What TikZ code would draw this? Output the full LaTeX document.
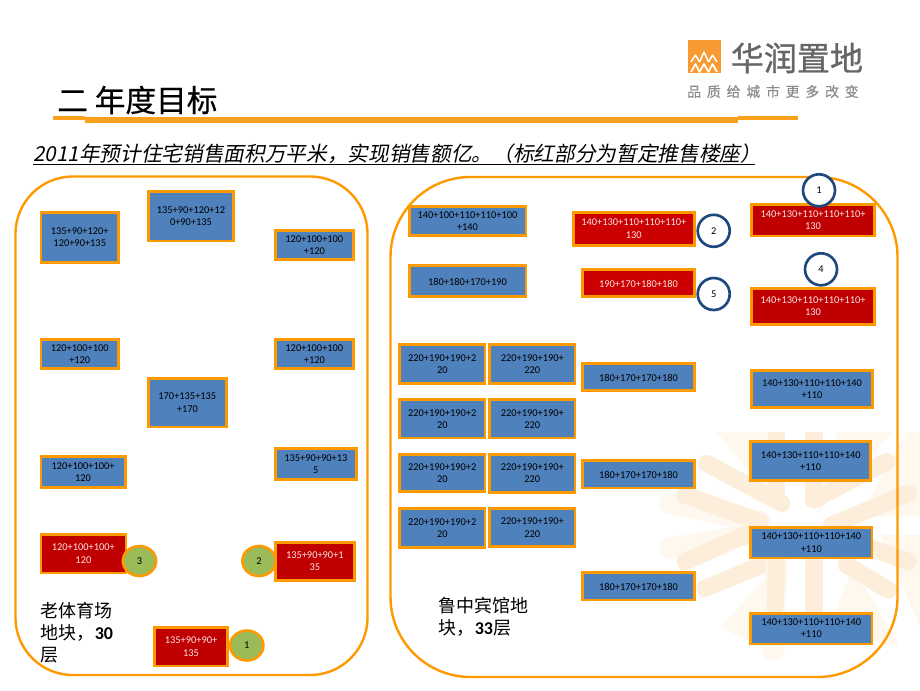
\documentclass[tikz,border=0pt]{standalone}
\usepackage{fontspec}
\usetikzlibrary{shapes.geometric}
\setmainfont{Carlito}
\newfontfamily\cjk{Noto Sans CJK SC}
\newfontfamily\cjkslant[FakeSlant=0.2]{Noto Sans CJK SC}
\newfontfamily\cjkwide[LetterSpace=42,FakeBold=0.6]{Noto Sans CJK SC}
\newfontfamily\cjkheavy[FakeBold=0.8]{Noto Sans CJK SC}
\newfontfamily\cjktitle[FakeBold=0.5]{Noto Sans CJK SC}
\definecolor{frameor}{HTML}{FF9900}
\definecolor{boxblue}{HTML}{4F81BD}
\definecolor{boxred}{HTML}{C00000}
\definecolor{boxredb}{HTML}{CC0000}
\definecolor{dotgreen}{HTML}{9BBB59}
\definecolor{ringblue}{HTML}{1F497D}
\definecolor{ruleor}{HTML}{F9A11B}
\definecolor{logoor}{HTML}{F79A32}
\definecolor{logogray}{HTML}{666666}
\definecolor{taggray}{HTML}{8C8C8C}
\definecolor{rayA}{HTML}{FDEEDB}
\definecolor{rayB}{HTML}{FEF8EF}
\tikzset{
  basebox/.style={draw=frameor,line width=2.1pt,inner sep=0pt,align=center,
    font=\fontsize{7.8}{9.2}\selectfont,
    execute at begin node={\rule{0pt}{7pt}}},
  bluebox/.style={basebox,fill=boxblue,text=black},
  redbox/.style={basebox,fill=boxred,text=white!90!boxred},
  redboxb/.style={basebox,fill=boxredb,text=white!90!boxred},
  greendot/.style={ellipse,draw=frameor,fill=dotgreen,line width=1.9pt,inner sep=0pt,
    minimum width=25pt,minimum height=22.5pt,font=\fontsize{7.8}{9.2}\selectfont},
  ringdot/.style={circle,draw=ringblue,fill=white,line width=2pt,inner sep=0pt,
    minimum size=24pt,font=\fontsize{7.8}{9.2}\selectfont},
  landframe/.style={draw=frameor,line width=1.8pt},
  sitelabel/.style={inner sep=0pt,anchor=west,align=left,
    font=\fontsize{13.5}{16.5}\selectfont\cjk},
  rayd/.style={rayA,line width=13pt,line cap=round},
  rayw/.style={rayB,line width=16pt,line cap=round},
}
\newcommand{\bx}[7]{%
  \pgfmathsetmacro{\cxx}{(#2+#4)/2}%
  \pgfmathsetmacro{\cyy}{(#3+#5)/2}%
  \pgfmathsetmacro{\wdd}{(#4-#2)*0.75-2.1}%
  \pgfmathsetmacro{\htt}{(#5-#3)*0.75-2.1}%
  \node[#6,minimum width=\wdd pt,minimum height=\htt pt] (#1) at (\cxx,\cyy) {#7};}
\begin{document}
\begin{tikzpicture}[x=0.75pt,y=-0.75pt]
\useasboundingbox (0,0) rectangle (920,690);
\begin{scope}
\clip (0,0) rectangle (920,690);
% pale background emblem
\begin{scope}[shift={(640,420)},x=0.25pt,y=-0.25pt]
  \fill[rayB] (230,36) -- (380,36) -- (430,280) -- cycle;
  \fill[rayB] (590,36) -- (760,36) -- (530,280) -- cycle;
  \fill[rayB] (240,620) -- (420,430) -- (400,700) -- cycle;
  \fill[rayB] (640,440) -- (780,680) -- (560,640) -- cycle;
  \fill[rayB] (800,36) -- (840,36) -- (840,290) -- (660,290) -- cycle;
  \fill[rayB] (720,345) -- (840,345) -- (840,620) -- cycle;
  \draw[rayw] (90,250) -- (360,305);
  \draw[rayw] (90,385) -- (320,345);
  \draw[rayd] (200,130) -- (425,250);
  \draw[rayd] (135,225) -- (360,305);
  \draw[rayd] (135,425) -- (360,325);
  \draw[rayd] (195,505) -- (390,425);
  \draw[rayd,line cap=butt] (410,36) -- (410,240);
  \draw[rayd,line cap=butt] (522,36) -- (522,240);
  \draw[rayd] (740,125) -- (520,240);
  \draw[rayd] (805,220) -- (575,315);
  \draw[rayd] (805,425) -- (570,340);
  \draw[rayd] (745,510) -- (620,435);
  \draw[rayw] (410,430) -- (400,690);
  \draw[rayd] (410,430) -- (405,560);
  \draw[rayd] (522,430) -- (522,590);
\end{scope}
\end{scope}
% logo
\fill[logoor] (687.5,39.5) rectangle (720.5,73);
\draw[white,line width=1.1pt,line join=round] (691,62) -- (695.5,55) -- (699.5,62) -- (704,52) -- (708.5,62) -- (712.5,55) -- (717,62);
\draw[white,line width=1.3pt,line join=round] (691,72) -- (695.5,64) -- (699.5,72) -- (704,64) -- (708.5,72) -- (712.5,64) -- (717,72);
\node[inner sep=0pt,anchor=west,text=logogray,font=\fontsize{24.8}{26}\selectfont\cjkheavy] (logoname) at (730.5,58) {华润置地};
\node[inner sep=0pt,anchor=west,text=taggray,font=\fontsize{10.4}{12}\selectfont\cjkwide] (logotag) at (687,91.5) {品质给城市更多改变};
% title
\node[inner sep=0pt,anchor=west,font=\fontsize{23}{26}\selectfont\cjktitle] (title) at (57,100) {二 年度目标};
\coordinate (ruleA) at (53,118);
\coordinate (ruleB) at (85,118);
\coordinate (ruleC) at (85,119.7);
\coordinate (ruleD) at (738,119.7);
\coordinate (ruleE) at (738,118);
\coordinate (ruleF) at (798,118);
\draw[ruleor,line width=3.6pt] (ruleA) -- (ruleB) (ruleE) -- (ruleF);
\draw[ruleor,line width=4.4pt] (ruleC) -- (ruleD);
% subtitle
\node[inner sep=0pt,anchor=west,font=\fontsize{15.5}{18}\selectfont\cjkslant] (subtitle) at (33,154) {2011年预计住宅销售面积万平米，实现销售额亿。（标红部分为暂定推售楼座）};
\coordinate (subL) at (33,164.7);
\coordinate (subR) at (755,164.7);
\draw[black,line width=0.9pt] (subL) -- (subR);
% land frames
\draw[landframe,rounded corners=43pt] (15.5,176.5) rectangle (367.5,675);
\draw[landframe,rounded corners=60pt] (390.5,177) rectangle (897.5,677);
% left plot
\bx{la}{39.5}{211}{120}{264}{bluebox}{135+90+120+\\120+90+135}
\bx{lb}{147}{190.3}{235}{242.3}{bluebox}{135+90+120+12\\0+90+135}
\bx{lc}{274}{229.3}{354.7}{260.7}{bluebox}{120+100+100\\+120}
\bx{ld}{39.5}{338.3}{120}{369.7}{bluebox}{120+100+100\\+120}
\bx{le}{274}{338.3}{354.7}{369.7}{bluebox}{120+100+100\\+120}
\bx{lf}{147}{377}{227.7}{428.3}{bluebox}{170+135+135\\+170}
\bx{lg}{39.5}{455}{126.7}{488.7}{bluebox}{120+100+100+\\120}
\bx{lh}{274}{447.3}{357.7}{481}{bluebox}{135+90+90+13\\5}
\bx{li}{39.5}{533}{127.3}{574.3}{redbox}{120+100+100+\\120}
\bx{lj}{274}{540.7}{355.7}{582}{redbox}{135+90+90+1\\35}
\bx{lk}{153.3}{626}{228.7}{667.3}{redbox}{135+90+90+\\135}
\node[greendot] (gthree) at (139.5,561) {3};
\node[greendot] (gtwo) at (259,561) {2};
\node[greendot] (gone) at (246.8,645.5) {1};
\node[sitelabel] (leftsite) at (40.5,633) {老体育场\\地块，{\fontspec{Carlito Bold}30}\\层};
% right plot
\bx{ra}{407.7}{204.7}{527.3}{237}{bluebox}{140+100+110+110+100\\+140}
\bx{rb}{407.7}{264.3}{527.3}{298}{bluebox}{180+180+170+190}
\bx{rc}{571.7}{210.7}{696}{246.7}{redboxb}{140+130+110+110+110+\\130}
\bx{rd}{581}{267.7}{696}{298}{redboxb}{190+170+180+180}
\bx{ga}{398.3}{343.3}{486.3}{385}{bluebox}{220+190+190+2\\20}
\bx{gb}{488.3}{343.3}{576.3}{385}{bluebox}{220+190+190+\\220}
\bx{gc}{398.3}{398.3}{486.3}{439.3}{bluebox}{220+190+190+2\\20}
\bx{gd}{488.3}{398.3}{576.3}{439.3}{bluebox}{220+190+190+\\220}
\bx{ge}{398.3}{453}{486.3}{492.7}{bluebox}{220+190+190+2\\20}
\bx{gf}{488.3}{453}{576.3}{494}{bluebox}{220+190+190+\\220}
\bx{gg}{398.3}{507.3}{486.3}{548.7}{bluebox}{220+190+190+2\\20}
\bx{gh}{488.3}{507.3}{576.3}{548}{bluebox}{220+190+190+\\220}
\bx{ma}{581}{361.7}{696}{392}{bluebox}{180+170+170+180}
\bx{mb}{581}{459}{696}{489.3}{bluebox}{180+170+170+180}
\bx{mc}{581}{571}{696}{601.3}{bluebox}{180+170+170+180}
\bx{sa}{750}{203}{876}{237.3}{redbox}{140+130+110+110+110+\\130}
\bx{sb}{750}{287}{876}{325.7}{redbox}{140+130+110+110+110+\\130}
\bx{sc}{750}{369.3}{874}{409}{bluebox}{140+130+110+110+140\\+110}
\bx{sd}{749.3}{440}{872}{481.7}{bluebox}{140+130+110+110+140\\+110}
\bx{se}{749.3}{526}{873.3}{559.3}{bluebox}{140+130+110+110+140\\+110}
\bx{sf}{749.3}{611.7}{873.3}{645.3}{bluebox}{140+130+110+110+140\\+110}
\node[ringdot] (rone) at (819,190.3) {1};
\node[ringdot] (rfour) at (821,269.3) {4};
\node[ringdot] (rtwo) at (713.7,230.8) {2};
\node[ringdot] (rfive) at (713.7,294) {5};
\node[sitelabel] (rightsite) at (438.5,617) {鲁中宾馆地\\块，{\fontspec{Carlito Bold}33}层};
\end{tikzpicture}
\end{document}
